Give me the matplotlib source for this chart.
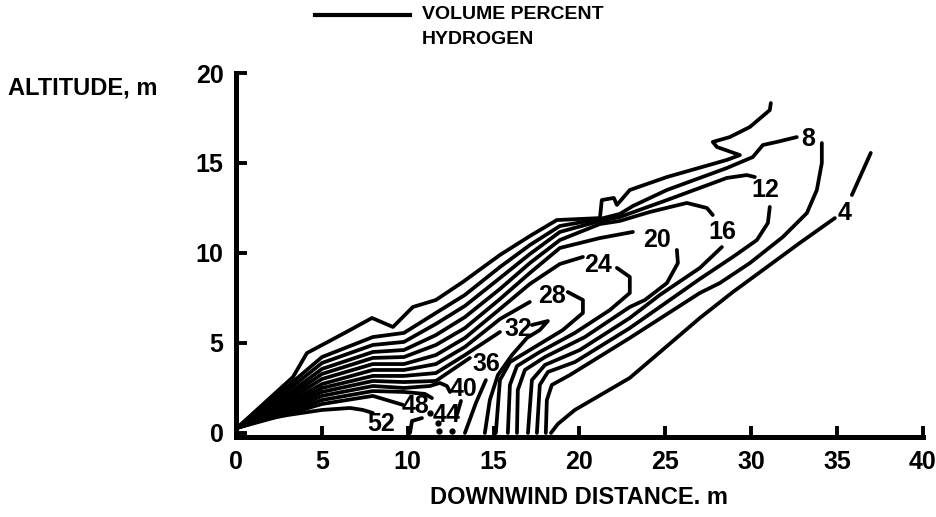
import matplotlib
matplotlib.use('Agg')
import matplotlib.pyplot as plt
from matplotlib.lines import Line2D

# contour lines, volume percent hydrogen (x, y in m)
c4_upper = [(0.06, 0.28), (3.32, 3.11), (4.13, 4.44), (5.88, 5.33), (6.64, 5.72), (7.92, 6.39),
            (9.14, 5.89), (10.30, 7.0), (11.64, 7.39), (13.21, 8.39), (15.37, 9.89), (17.11, 10.94),
            (18.68, 11.83), (21.19, 11.94), (21.30, 12.94), (22.0, 13.06), (22.18, 12.67),
            (22.93, 13.5), (25.09, 14.22), (28.58, 15.17), (29.34, 15.44), (28.0, 15.89),
            (27.76, 16.17), (28.75, 16.44), (29.92, 17.0), (31.08, 17.94), (31.14, 18.33)]
c4_lower = [(18.34, 0.0), (18.74, 0.5), (19.73, 1.28), (22.93, 3.06), (27.01, 6.39),
            (28.93, 7.83), (32.83, 10.56), (34.87, 11.94)]
c4_tail = [(35.86, 13.22), (36.96, 15.56)]

c8_upper = [(0.06, 0.28), (3.03, 2.61), (5.01, 4.22), (7.97, 5.33), (9.78, 5.56), (11.64, 6.67),
            (13.33, 7.67), (15.37, 9.22), (17.11, 10.44), (18.86, 11.5), (21.19, 11.89),
            (22.35, 12.17), (23.11, 12.61), (25.09, 13.5), (28.58, 14.72), (30.09, 15.33),
            (30.68, 16.0), (31.49, 16.17), (32.65, 16.44)]
c8_right = [(34.11, 16.11), (34.11, 15.0), (33.82, 13.5), (33.24, 12.22), (31.84, 10.89),
            (29.92, 9.44), (28.17, 8.33), (27.01, 7.78), (22.93, 5.28), (19.44, 3.22),
            (18.39, 2.67), (18.10, 1.83), (18.04, 0.0)]

c12_upper = [(0.06, 0.28), (3.03, 2.39), (5.01, 3.89), (7.97, 4.89), (9.78, 5.06), (11.64, 6.06),
             (13.33, 7.06), (15.37, 8.61), (17.11, 9.94), (18.86, 11.17), (21.19, 11.78),
             (22.35, 12.0), (25.09, 12.94), (28.58, 14.17), (29.74, 14.33), (30.21, 14.22)]
c12_right = [(31.08, 12.56), (30.97, 11.67), (30.33, 10.72), (28.93, 9.78), (27.01, 8.56),
             (22.93, 5.83), (19.73, 3.94), (18.16, 3.39), (17.69, 2.67), (17.52, 0.0)]

c16_upper = [(0.06, 0.28), (3.03, 2.17), (5.01, 3.56), (7.97, 4.5), (9.78, 4.61), (11.64, 5.44),
             (13.33, 6.44), (15.37, 8.0), (17.11, 9.44), (18.86, 10.72), (21.19, 11.61),
             (22.35, 11.78), (24.10, 12.28), (26.25, 12.78), (27.42, 12.5), (27.76, 12.11)]
c16_right = [(28.29, 10.33), (27.01, 9.17), (24.68, 7.67), (22.93, 6.39), (20.02, 4.61),
             (17.99, 3.78), (17.23, 2.94), (17.0, 0.0)]

c20_upper = [(0.06, 0.28), (3.03, 2.0), (5.01, 3.28), (7.97, 4.17), (9.78, 4.22), (11.64, 4.89),
             (13.33, 5.83), (15.37, 7.44), (17.11, 8.89), (18.86, 10.28), (21.19, 10.83),
             (23.11, 11.17)]
c20_right = [(25.67, 10.17), (25.73, 9.44), (25.09, 8.33), (23.81, 7.39), (22.93, 7.0),
             (20.31, 5.33), (17.99, 4.22), (16.82, 3.5), (16.41, 2.39), (16.36, 0.0)]

c24_upper = [(0.06, 0.28), (3.03, 1.83), (5.01, 3.0), (7.97, 3.83), (9.78, 3.83), (11.64, 4.33),
             (13.33, 5.28), (15.37, 6.89), (17.11, 8.28), (18.86, 9.39), (20.20, 9.78)]
c24_right = [(22.18, 9.17), (22.93, 8.67), (22.93, 7.78), (21.77, 6.83), (19.73, 5.56),
             (17.69, 4.5), (16.36, 3.72), (15.95, 2.67), (15.83, 0.0)]

c28_upper = [(0.06, 0.28), (3.03, 1.67), (5.01, 2.72), (7.97, 3.5), (9.78, 3.5), (11.64, 3.83),
             (13.33, 4.78), (15.37, 6.33), (17.11, 7.28)]
c28_right = [(19.32, 7.83), (20.20, 7.39), (20.20, 6.67), (19.03, 5.72), (17.11, 4.61),
             (15.95, 3.94), (15.37, 2.94), (15.13, 0.0)]

c32_upper = [(0.06, 0.28), (3.03, 1.5), (5.01, 2.5), (7.97, 3.17), (9.78, 3.17), (11.64, 3.33),
             (13.33, 4.33), (15.37, 5.61)]
c32_right = [(17.23, 6.0), (18.16, 6.22), (17.69, 5.72), (16.94, 5.28), (16.07, 4.33),
             (15.25, 3.22), (14.78, 1.83), (14.49, 0.0)]

c36_upper = [(0.06, 0.28), (3.03, 1.39), (5.01, 2.28), (7.97, 2.89), (9.78, 2.83), (11.64, 2.89),
             (12.75, 3.61), (13.62, 4.17)]
c36_right = [(14.55, 2.94), (13.97, 1.67), (13.33, 0.0)]

c40_upper = [(0.06, 0.28), (3.03, 1.28), (5.01, 2.06), (7.97, 2.61), (9.78, 2.5), (11.29, 2.61),
             (11.87, 2.78), (12.28, 2.61), (12.46, 2.28)]
c40_right = [(13.1, 1.78), (12.81, 0.83)]

c44_upper = [(0.06, 0.28), (3.03, 1.17), (5.01, 1.83), (7.97, 2.33), (9.78, 2.28), (11.0, 2.17),
             (11.41, 1.94)]
c44_dots = [(11.3, 1.1), (11.75, 0.55), (11.85, 0.1), (12.55, 0.1)]

c48_upper = [(0.06, 0.28), (3.03, 1.06), (5.01, 1.61), (7.97, 2.06), (8.96, 1.78), (9.72, 1.56)]

c52_line = [(0.06, 0.28), (1.40, 0.72), (3.03, 1.0), (5.01, 1.28), (6.64, 1.39), (7.39, 1.28),
            (7.97, 1.11)]
c52_hook = [(10.83, 0.83), (10.25, 0.67), (10.13, 0.0)]

# label text and where it sits
label_text = ['4', '8', '12', '16', '20', '24', '28', '32', '36', '40', '44', '48', '52']
label_x = [35.45, 33.3, 30.8, 28.3, 24.5, 21.1, 18.4, 16.45, 14.6, 13.27, 12.28, 10.48, 8.44]
label_y = [12.2, 16.35, 13.5, 11.17, 10.72, 9.33, 7.61, 5.8, 3.83, 2.44, 1.0, 1.5, 0.5]

x_ticks = [0, 5, 10, 15, 20, 25, 30, 35, 40]
y_ticks = [0, 5, 10, 15, 20]

plt.rcParams['font.family'] = ['Liberation Sans', 'DejaVu Sans']
plt.rcParams['font.weight'] = 'bold'

fig = plt.figure(figsize=(9.36, 5.17), dpi=100)
ax = fig.add_axes([0.2521, 0.1538, 0.7340, 0.7050])

lines = [c4_upper, c4_lower, c4_tail, c8_upper, c8_right, c12_upper, c12_right,
         c16_upper, c16_right, c20_upper, c20_right, c24_upper, c24_right,
         c28_upper, c28_right, c32_upper, c32_right, c36_upper, c36_right,
         c40_upper, c40_right, c44_upper, c48_upper, c52_line, c52_hook]
for pts in lines:
    xs = [p[0] for p in pts]
    ys = [p[1] for p in pts]
    ax.plot(xs, ys, color='black', lw=2.7, solid_capstyle='round', solid_joinstyle='round')

ax.plot([p[0] for p in c44_dots], [p[1] for p in c44_dots], 'o', color='black', ms=3.5)

for t, lx, ly in zip(label_text, label_x, label_y):
    ax.text(lx, ly, t, fontsize=18, fontweight='bold', ha='center', va='center')

ax.set_xlim(0, 40)
ax.set_ylim(-0.25, 20)
ax.set_xticks(x_ticks)
ax.set_yticks(y_ticks)
ax.tick_params(direction='in', length=8, width=2.8, labelsize=18, pad=9)
ax.spines['top'].set_visible(False)
ax.spines['right'].set_visible(False)
ax.spines['left'].set_linewidth(3.6)
ax.spines['bottom'].set_linewidth(3.6)
ax.spines['left'].set_bounds(-0.25, 20)
ax.set_xlabel('DOWNWIND DISTANCE. m', fontsize=17, fontweight='bold', labelpad=9)

fig.text(0.0085, 0.83, 'ALTITUDE, m', fontsize=17, fontweight='bold', va='center', ha='left')

# legend drawn above the plot
fig.add_artist(Line2D([0.337, 0.438], [0.971, 0.971], color='black', lw=3))
fig.text(0.451, 0.971, 'VOLUME PERCENT', fontsize=14, fontweight='bold', va='center', ha='left')
fig.text(0.451, 0.923, 'HYDROGEN', fontsize=14, fontweight='bold', va='center', ha='left')

fig.savefig('out.png', dpi=100, facecolor='white')
